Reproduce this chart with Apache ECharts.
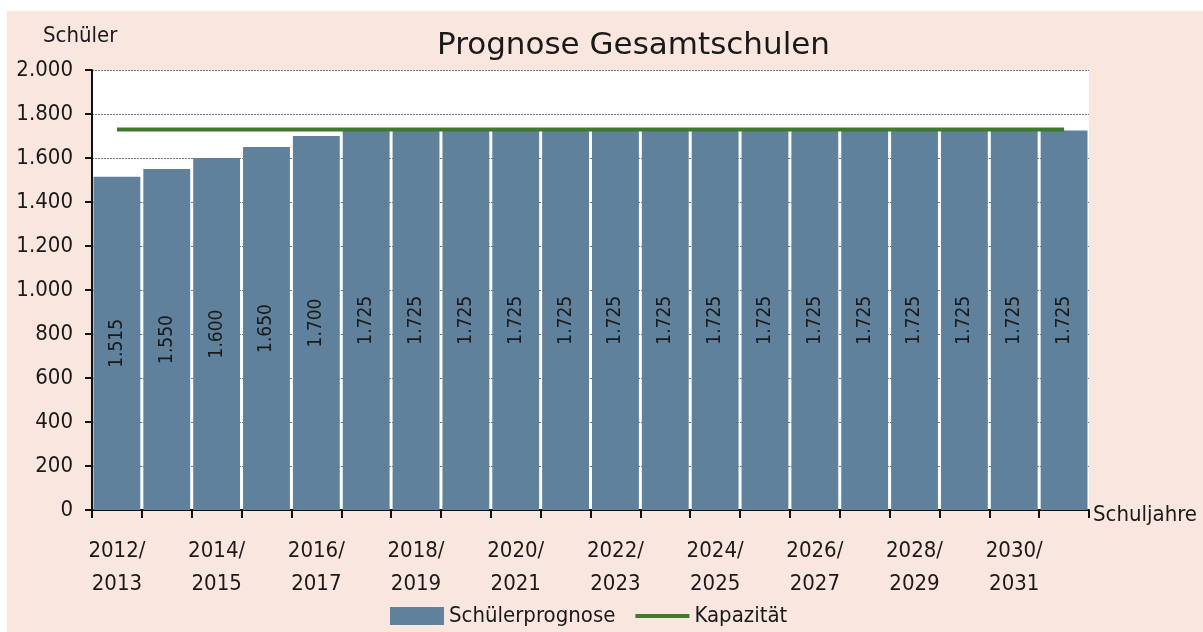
<!DOCTYPE html>
<html>
<head>
<meta charset="utf-8">
<script src="https://cdn.jsdelivr.net/npm/echarts@6/dist/echarts.min.js"></script>
<style>
  html, body { margin: 0; padding: 0; background: #fff; }
  #chart { position: absolute; left: 7px; top: 11px; width: 1196px; height: 621px; background: #f9e7df; }
</style>
</head>
<body>
<div id="chart"></div>
<script>
// Schuljahre
var categories = ['2012/2013', '2013/2014', '2014/2015', '2015/2016', '2016/2017', '2017/2018',
  '2018/2019', '2019/2020', '2020/2021', '2021/2022', '2022/2023', '2023/2024', '2024/2025',
  '2025/2026', '2026/2027', '2027/2028', '2028/2029', '2029/2030', '2030/2031', '2031/2032']
var schuelerprognose = [1515, 1550, 1600, 1650, 1700, 1725, 1725, 1725, 1725, 1725,
  1725, 1725, 1725, 1725, 1725, 1725, 1725, 1725, 1725, 1725]
var kapazitaet = [1730, 1730, 1730, 1730, 1730, 1730, 1730, 1730, 1730, 1730,
  1730, 1730, 1730, 1730, 1730, 1730, 1730, 1730, 1730, 1730]
var yMin = 0
var yMax = 2000
var yStep = 200

var font = '"DejaVu Sans Condensed", "Liberation Sans Narrow", sans-serif'
var textColor = '#1a1a1a'

function deNum(v) {
  // Tausenderpunkt
  return String(v).replace(/\B(?=(\d{3})+(?!\d))/g, '.')
}

var chart = echarts.init(document.getElementById('chart'))
chart.setOption({
  animation: false,
  textStyle: { fontFamily: font, color: textColor },
  title: [{
    text: 'Prognose Gesamtschulen',
    left: 425,
    top: 14,
    textStyle: { fontFamily: '"DejaVu Sans", sans-serif', fontSize: 31, fontWeight: 'normal', color: textColor }
  }, {
    text: 'Schüler',
    left: 31,
    top: 9,
    textStyle: { fontFamily: font, fontSize: 22, fontWeight: 'normal', color: textColor }
  }],
  legend: {
    left: 378,
    bottom: 0,
    itemWidth: 54,
    itemHeight: 18,
    itemGap: 18,
    textStyle: { fontFamily: font, fontSize: 22, color: textColor },
    data: [
      { name: 'Schülerprognose', icon: 'rect' },
      { name: 'Kapazität', itemStyle: { opacity: 0 }, lineStyle: { width: 4 } }
    ]
  },
  grid: {
    left: 85,
    right: 114,
    top: 59,
    bottom: 122,
    show: true,
    backgroundColor: '#fff',
    borderWidth: 0
  },
  xAxis: {
    type: 'category',
    data: categories,
    name: 'Schuljahre',
    nameLocation: 'end',
    nameGap: 4,
    nameTextStyle: { fontFamily: font, fontSize: 22, color: textColor, verticalAlign: 'top', padding: [-6, 0, 0, 0] },
    axisLine: { lineStyle: { color: '#111', width: 2 } },
    axisTick: { show: true, interval: 0, length: 8, lineStyle: { color: '#111', width: 2 } },
    axisLabel: {
      interval: 1,
      margin: 25,
      fontSize: 22,
      lineHeight: 33,
      color: textColor,
      fontFamily: font,
      formatter: function (v) { return v.replace('/', '/\n') }
    }
  },
  yAxis: {
    type: 'value',
    min: yMin,
    max: yMax,
    interval: yStep,
    axisLine: { show: true, lineStyle: { color: '#111', width: 2 } },
    axisTick: { show: true, length: 7, lineStyle: { color: '#111', width: 2 } },
    axisLabel: { fontSize: 22, color: textColor, fontFamily: font, margin: 19, formatter: deNum },
    splitLine: { lineStyle: { color: '#777', type: [2, 1], width: 1 } }
  },
  series: [{
    name: 'Schülerprognose',
    type: 'bar',
    data: schuelerprognose,
    barCategoryGap: '6%',
    itemStyle: { color: '#5f819b' },
    label: {
      show: true,
      position: 'inside',
      rotate: 90,
      fontSize: 19,
      color: textColor,
      fontFamily: font,
      formatter: function (p) { return deNum(p.value) }
    }
  }, {
    name: 'Kapazität',
    type: 'line',
    data: kapazitaet,
    symbol: 'none',
    z: 5,
    lineStyle: { color: '#3f7a2b', width: 4 },
    itemStyle: { color: '#3f7a2b' }
  }]
})
</script>
</body>
</html>
